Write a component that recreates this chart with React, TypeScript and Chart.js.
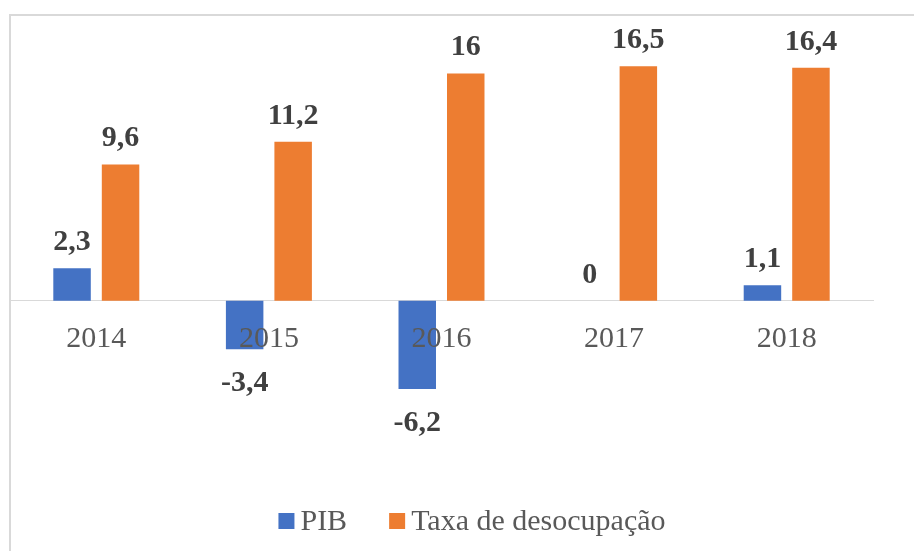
import React, { useEffect, useRef } from "react";
import { Chart, registerables } from "chart.js";

Chart.register(...registerables);

const categories = ["2014", "2015", "2016", "2017", "2018"];
const pibValues = [2.3, -3.4, -6.2, 0, 1.1];
const taxaValues = [9.6, 11.2, 16, 16.5, 16.4];
const seriesNames = ["PIB", "Taxa de desocupação"];
const seriesColors = ["#4472C4", "#ED7D31"];
const yMin = -10;
const yMax = 20;

const FONT = '"Liberation Serif", "Times New Roman", serif';

const fmt = (v: number) => String(v).replace(".", ",");

const valueLabels = {
  id: "valueLabels",
  afterDatasetsDraw(chart: any) {
    const ctx = chart.ctx;
    ctx.save();
    ctx.font = `bold 30px ${FONT}`;
    ctx.fillStyle = "#404040";
    ctx.textAlign = "center";
    ctx.textBaseline = "alphabetic";
    chart.data.datasets.forEach((ds: any, i: number) => {
      const meta = chart.getDatasetMeta(i);
      meta.data.forEach((bar: any, j: number) => {
        const v = ds.data[j] as number;
        const { x, y } = bar.getProps(["x", "y"], true);
        if (v < 0) ctx.fillText(fmt(v), x, y + 42);
        else ctx.fillText(fmt(v), x, y - 18);
      });
    });
    ctx.restore();
  },
};

const bottomLegend = {
  id: "bottomLegend",
  afterDraw(chart: any) {
    const ctx = chart.ctx;
    ctx.save();
    ctx.font = `30px ${FONT}`;
    const box = 16;
    const gapText = 6;
    const gapItem = 42;
    const items = chart.data.datasets.map((ds: any) => ({
      label: ds.label as string,
      color: ds.backgroundColor as string,
      w: ctx.measureText(ds.label).width as number,
    }));
    const total = items.reduce(
      (s: number, it: any, i: number) => s + box + gapText + it.w + (i > 0 ? gapItem : 0),
      0
    );
    let x = chart.width / 2 + 15 - total / 2;
    const baseline = chart.height - 21;
    ctx.textAlign = "left";
    ctx.textBaseline = "alphabetic";
    items.forEach((it: any, i: number) => {
      if (i > 0) x += gapItem;
      ctx.fillStyle = it.color;
      ctx.fillRect(x, baseline - 17, box, box);
      x += box + gapText;
      ctx.fillStyle = "#595959";
      ctx.fillText(it.label, x, baseline);
      x += it.w;
    });
    ctx.restore();
  },
};

export default function App() {
  const canvasRef = useRef<HTMLCanvasElement | null>(null);

  useEffect(() => {
    const canvas = canvasRef.current;
    if (!canvas) return;
    const chart = new Chart(canvas, {
      type: "bar",
      data: {
        labels: categories,
        datasets: [
          {
            label: seriesNames[0],
            data: pibValues,
            backgroundColor: seriesColors[0],
            categoryPercentage: 0.562,
            barPercentage: 0.773,
          },
          {
            label: seriesNames[1],
            data: taxaValues,
            backgroundColor: seriesColors[1],
            categoryPercentage: 0.562,
            barPercentage: 0.773,
          },
        ],
      },
      options: {
        responsive: false,
        animation: false,
        devicePixelRatio: 1,
        layout: { padding: { left: 10, right: 41, top: 16.6, bottom: 108 } },
        plugins: {
          legend: { display: false },
          tooltip: { enabled: false },
        },
        scales: {
          x: {
            position: { y: 0 } as any,
            grid: { display: false, drawTicks: false },
            border: { display: true, color: "#d9d9d9", width: 1 },
            ticks: {
              z: 1,
              color: "#595959",
              font: { family: FONT, size: 30 },
              padding: 20,
              maxRotation: 0,
            },
          },
          y: { display: false, min: yMin, max: yMax },
        },
      },
      plugins: [valueLabels, bottomLegend],
    });
    return () => chart.destroy();
  }, []);

  return (
    <div
      style={{
        position: "fixed",
        left: 0,
        top: 0,
        width: 914,
        height: 551,
        overflow: "hidden",
        background: "#ffffff",
      }}
    >
      <div
        style={{
          position: "absolute",
          left: 9,
          top: 14,
          width: 1000,
          height: 1000,
          border: "2px solid #d9d9d9",
          boxSizing: "border-box",
        }}
      />
      <canvas
        ref={canvasRef}
        width={914}
        height={551}
        style={{ position: "absolute", left: 0, top: 0, width: 914, height: 551 }}
      />
    </div>
  );
}
